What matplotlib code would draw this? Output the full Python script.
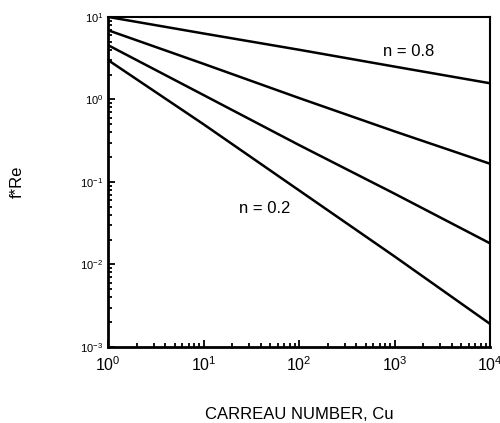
import numpy as np
import matplotlib.pyplot as plt
from matplotlib.ticker import LogLocator, NullFormatter, FixedLocator

plt.rcParams['font.family'] = ['Liberation Sans', 'DejaVu Sans']

cu = [1, 10, 100, 1000, 10000]
fre_08 = [10.0, 6.3, 4.0, 2.5, 1.57]
fre_06 = [6.9, 2.7, 1.04, 0.41, 0.166]
fre_04 = [4.55, 1.13, 0.28, 0.072, 0.018]
fre_02 = [3.0, 0.5, 0.079, 0.0125, 0.0019]

xticks = [1, 10, 100, 1000, 10000]
xticklabels = [r'$\mathregular{10^{0}}$', r'$\mathregular{10^{1}}$', r'$\mathregular{10^{2}}$',
               r'$\mathregular{10^{3}}$', r'$\mathregular{10^{4}}$']
yticks = [1e-3, 1e-2, 1e-1, 1, 10]
yticklabels = [r'$\mathregular{10^{-3}}$', r'$\mathregular{10^{-2}}$', r'$\mathregular{10^{-1}}$',
               r'$\mathregular{10^{0}}$', r'$\mathregular{10^{1}}$']

fig = plt.figure(figsize=(5, 4.23), dpi=100)
ax = fig.add_axes([0.216, 0.18, 0.764, 0.78])

for ys in (fre_08, fre_06, fre_04, fre_02):
    ax.plot(cu, ys, color='black', lw=1.8)

ax.set_xscale('log')
ax.set_yscale('log')
ax.set_xlim(1, 10000)
ax.set_ylim(1e-3, 10)

ax.xaxis.set_major_locator(FixedLocator(xticks))
ax.set_xticklabels(xticklabels, fontsize=11.5)
ax.yaxis.set_major_locator(FixedLocator(yticks))
ax.set_yticklabels(yticklabels, fontsize=8)
ax.xaxis.set_minor_locator(LogLocator(base=10, subs=np.arange(2, 10)))
ax.yaxis.set_minor_locator(LogLocator(base=10, subs=np.arange(2, 10)))
ax.xaxis.set_minor_formatter(NullFormatter())
ax.yaxis.set_minor_formatter(NullFormatter())
ax.tick_params(which='both', direction='in', top=False, right=False, width=1.3)
ax.tick_params(which='major', length=5)
ax.tick_params(which='minor', length=3)
ax.tick_params(axis='x', pad=6)

for s in ax.spines.values():
    s.set_linewidth(1.5)
ax.spines['left'].set_linewidth(2)
ax.spines['bottom'].set_linewidth(2)

ax.text(760, 3.76, 'n = 0.8', fontsize=12, va='center')
ax.text(23.5, 0.048, 'n = 0.2', fontsize=12, va='center')

ax.set_xlabel('CARREAU NUMBER, Cu', fontsize=12, labelpad=24)
ax.set_ylabel('f*Re', fontsize=12, labelpad=40)

fig.savefig('out.png', dpi=100)
